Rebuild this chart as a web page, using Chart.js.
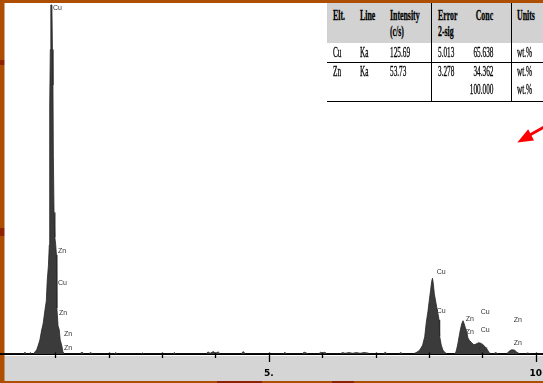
<!DOCTYPE html>
<html>
<head>
<meta charset="utf-8">
<script src="https://cdn.jsdelivr.net/npm/chart.js@4.4.1/dist/chart.umd.min.js"></script>
<style>
  html, body { margin: 0; padding: 0; background: #ae4e02; }
  #wrap { position: relative; width: 543px; height: 383px; overflow: hidden; }
  #spec { position: absolute; left: 0; top: 0; }
  .cell { position: absolute; font-family: "Liberation Serif", serif; font-size: 14px; line-height: 14px; color: #000; white-space: nowrap; }
  .cell span { display: inline-block; transform: scaleX(0.52); transform-origin: left center; -webkit-text-stroke: 0.3px #000; }
  .cell.hd span { font-weight: bold; transform: scaleX(0.56); }
  .cell.r { text-align: right; }
  .cell.r span { transform-origin: right center; }
  .ln { position: absolute; background: #000; }
  .hdbg { position: absolute; background: #d2d2d2; }
</style>
</head>
<body>
<div id="wrap">
  <canvas id="spec" width="543" height="383"></canvas>
  <div id="tbl"></div>
</div>
<script>
// Espectro EDS: energía (keV) y cuentas normalizadas (0-100)
const noiseEnergy = [0, 0.40, 0.43, 0.46, 0.51, 0.53, 0.56,
  1.45, 1.50, 1.54, 1.62, 1.66, 1.70, 2.10, 2.13, 2.16, 2.60, 2.63, 2.66, 3.20, 3.23, 3.26,
  3.82, 3.86, 3.90, 3.96, 4.00, 4.05, 4.09, 4.48, 4.52, 4.56, 5.27, 5.30, 5.33,
  5.62, 5.66, 5.70, 5.74, 5.93, 5.97, 6.01, 6.05, 6.09,
  6.33, 6.38, 6.43, 6.50, 6.57, 6.64, 6.71, 6.78, 6.85, 6.90,
  7.14, 7.18, 7.22, 7.43, 7.47, 7.51, 9.20, 9.25, 9.30, 9.80, 9.85, 9.90, 10.13];
const noiseCounts = [0, 0, 0.5, 0, 0, 0.4, 0,
  0, 0.5, 0, 0, 0.4, 0, 0, 0.4, 0, 0, 0.3, 0, 0, 0.4, 0,
  0, 0.6, 0.2, 0.7, 0.2, 0.6, 0, 0, 0.7, 0, 0, 0.5, 0,
  0, 0.5, 0.3, 0, 0, 0.5, 0.3, 0.5, 0,
  0, 0.4, 0.2, 0.4, 0.2, 0.4, 0.2, 0.4, 0.3, 0,
  0, 0.5, 0, 0, 0.4, 0, 0, 0.4, 0, 0, 0.3, 0, 0];

const cuLEnergy = [0.59, 0.618, 0.65, 0.68, 0.71, 0.743, 0.77, 0.805, 0.83, 0.848, 0.87, 0.886, 0.89, 0.893, 0.898, 0.905,
  0.915, 0.935, 0.945, 0.955, 0.962, 0.975, 0.99, 1.005, 1.02, 1.028, 1.05, 1.073, 1.09, 1.118, 1.142, 1.17];
const cuLCounts = [0, 0.6, 1.2, 2.5, 4.0, 6.8, 8.5, 12.4, 15, 20.9, 25, 30.8, 45, 56, 70, 86,
  98.6, 98.6, 86, 76, 56, 40, 33, 31, 28, 13, 8, 6.8, 4, 2.5, 0.6, 0];

const cuKEnergy = [7.70, 7.76, 7.80, 7.83, 7.88, 7.92, 7.95, 7.98, 8.00, 8.03, 8.05, 8.066, 8.08, 8.10, 8.13, 8.16, 8.19, 8.20, 8.23, 8.26, 8.30, 8.34];
const cuKCounts = [0, 0.4, 0.8, 1.2, 2.5, 4.9, 9, 12, 14.5, 18, 20.5, 21.4, 20, 17, 14.5, 12, 9.6, 5, 2.5, 1.1, 0.4, 0];

const znKaEnergy = [8.47, 8.50, 8.515, 8.54, 8.564, 8.59, 8.615, 8.638, 8.66, 8.68, 8.702, 8.73, 8.76, 8.80, 8.84, 8.88, 8.93, 8.98, 9.03, 9.08, 9.12, 9.15];
const znKaCounts = [0, 0.4, 1.1, 2.8, 4.9, 7, 8.6, 9.4, 8.5, 7.5, 6.6, 4.5, 3.8, 3.2, 2.6, 2.8, 3.2, 3.0, 2.4, 1.5, 0.6, 0];

const znKbEnergy = [9.45, 9.48, 9.51, 9.55, 9.60, 9.64, 9.68, 9.71];
const znKbCounts = [0, 0.4, 0.9, 1.2, 1.1, 0.6, 0.2, 0];

// Etiquetas de picos (en coordenadas de datos)
const peakLabels = ['Cu', 'Zn', 'Cu', 'Zn', 'Zn', 'Zn', 'Cu', 'Cu', 'Zn', 'Cu', 'Zn', 'Cu', 'Cu', 'Zn', 'Zn'];
const peakLabelEnergy = [0.955, 1.049, 1.049, 1.067, 1.161, 1.161, 8.146, 8.146, 8.689, 8.97, 8.689, 8.97, 8.933, 9.588, 9.588];
const peakLabelCounts = [97.7, 29.1, 20.1, 11.6, 5.6, 1.7, 23.2, 12.1, 9.9, 11.9, 6.2, 6.8, 1.4, 9.6, 3.1];

// Eje X
const tickValues = [1, 2, 3, 4, 5, 6, 7, 8, 9, 10];
const tickLabels = ['', '', '', '', '5.', '', '', '', '', '10'];
const xMin = -0.0375, xMax = 10.13;

// Tabla de cuantificación
const tableHeader1 = ['Elt.', 'Line', 'Intensity', 'Error', 'Conc', 'Units'];
const tableHeader2 = ['', '', '(c/s)', '2-sig', '', ''];
const cuRow = ['Cu', 'Ka', '125.69', '5.013', '65.638', 'wt.%'];
const znRow = ['Zn', 'Ka', '53.73', '3.278', '34.362', 'wt.%'];
const totalRow = ['', '', '', '', '100.000', 'wt.%'];

// Construir puntos
const points = [];
[[noiseEnergy, noiseCounts], [cuLEnergy, cuLCounts], [cuKEnergy, cuKCounts],
 [znKaEnergy, znKaCounts], [znKbEnergy, znKbCounts]].forEach(([e, c]) => {
    e.forEach((x, i) => points.push({ x: x, y: c[i] }));
});
points.sort((a, b) => a.x - b.x);

// Fondo (marco naranja, zona blanca y banda gris)
const backdrop = {
    id: 'backdrop',
    beforeDraw(chart) {
        const ctx = chart.ctx;
        ctx.save();
        ctx.fillStyle = '#ae4e02';
        ctx.fillRect(0, 0, 543, 383);
        ctx.fillStyle = '#8e2200';
        ctx.fillRect(0, 60, 5, 5);
        ctx.fillRect(0, 228, 5, 8);
        ctx.fillRect(217, 381, 45, 2);
        ctx.fillRect(332, 381, 22, 2);
        ctx.fillStyle = '#ffffff';
        ctx.fillRect(4.5, 3, 539, 353);
        ctx.fillStyle = '#d5d5d5';
        ctx.fillRect(4.5, 356, 539, 25);
        ctx.restore();
    }
};

const tickMarks = {
    id: 'tickMarks',
    afterDatasetsDraw(chart) {
        const { ctx, scales: { x } } = chart;
        const base = chart.chartArea.bottom;
        ctx.save();
        ctx.strokeStyle = '#000';
        ctx.lineWidth = 1.3;
        tickValues.forEach((v, i) => {
            const px = Math.round(x.getPixelForValue(v)) + 0.5;
            const len = tickLabels[i] ? 8 : 4;
            ctx.beginPath();
            ctx.moveTo(px, base - 1.5);
            ctx.lineTo(px, base + len);
            ctx.stroke();
        });
        ctx.restore();
    }
};

const peakText = {
    id: 'peakText',
    afterDatasetsDraw(chart) {
        const { ctx, scales: { x, y } } = chart;
        ctx.save();
        ctx.font = '7px "Liberation Sans"';
        ctx.fillStyle = '#333';
        ctx.textAlign = 'left';
        ctx.textBaseline = 'middle';
        peakLabels.forEach((t, i) => {
            ctx.fillText(t, x.getPixelForValue(peakLabelEnergy[i]), y.getPixelForValue(peakLabelCounts[i]));
        });
        ctx.restore();
    }
};

const redArrow = {
    id: 'redArrow',
    afterDraw(chart) {
        const ctx = chart.ctx;
        ctx.save();
        ctx.strokeStyle = '#ff0000';
        ctx.fillStyle = '#ff0000';
        ctx.lineWidth = 3;
        ctx.beginPath();
        ctx.moveTo(545, 126.5);
        ctx.lineTo(528, 136);
        ctx.stroke();
        ctx.beginPath();
        ctx.moveTo(517.3, 142.5);
        ctx.lineTo(528.2, 129.2);
        ctx.lineTo(534, 140.6);
        ctx.closePath();
        ctx.fill();
        ctx.restore();
    }
};

new Chart(document.getElementById('spec'), {
    type: 'line',
    data: {
        datasets: [{
            data: points,
            fill: 'origin',
            backgroundColor: '#3b3b3b',
            borderColor: '#262626',
            borderWidth: 0.8,
            pointRadius: 0,
            tension: 0
        }]
    },
    options: {
        responsive: false,
        animation: false,
        layout: { padding: 0 },
        plugins: {
            legend: { display: false },
            tooltip: { enabled: false }
        },
        scales: {
            x: {
                type: 'linear',
                min: xMin,
                max: xMax,
                afterBuildTicks: s => { s.ticks = tickValues.map(v => ({ value: v })); },
                afterFit: s => { s.height = 29; },
                grid: { drawOnChartArea: false, drawTicks: true, tickLength: 13, tickColor: 'rgba(0,0,0,0)' },
                border: { display: true, color: '#000', width: 2 },
                ticks: {
                    autoSkip: false,
                    maxRotation: 0,
                    padding: 1,
                    color: '#000',
                    font: { family: 'DejaVu Sans', weight: 'bold', size: 9 },
                    callback: (value, index) => tickLabels[index]
                }
            },
            y: { display: false, min: 0, max: 100 }
        }
    },
    plugins: [backdrop, tickMarks, peakText, redArrow]
});

// Tabla superpuesta
const tbl = document.getElementById('tbl');
const colX = [333, 360, 390, 437.5, 493, 516.5];
function addBox(cls, l, t, w, h) {
    const d = document.createElement('div');
    d.className = cls;
    d.style.left = l + 'px'; d.style.top = t + 'px';
    d.style.width = w + 'px'; d.style.height = h + 'px';
    tbl.appendChild(d);
}
function addRow(row, cy, header) {
    row.forEach((t, i) => {
        if (!t) return;
        const d = document.createElement('div');
        d.className = 'cell' + (header ? ' hd' : '') + (i === 4 ? ' r' : '');
        if (i === 4) d.style.right = (543 - colX[i]) + 'px';
        else d.style.left = colX[i] + 'px';
        d.style.top = (cy - 7.1) + 'px';
        const s = document.createElement('span');
        s.textContent = t;
        d.appendChild(s);
        tbl.appendChild(d);
    });
}
addBox('hdbg', 327, 3, 216, 40);
addBox('ln', 327, 61.5, 216, 1.5);
addBox('ln', 327, 100.5, 216, 1.5);
addBox('ln', 430.5, 3, 1.5, 99);
addBox('ln', 510.5, 3, 1.5, 99);
addRow(tableHeader1, 16, true);
addRow(tableHeader2, 32.5, true);
addRow(cuRow, 53.3, false);
addRow(znRow, 71.7, false);
addRow(totalRow, 90, false);
</script>
</body>
</html>
